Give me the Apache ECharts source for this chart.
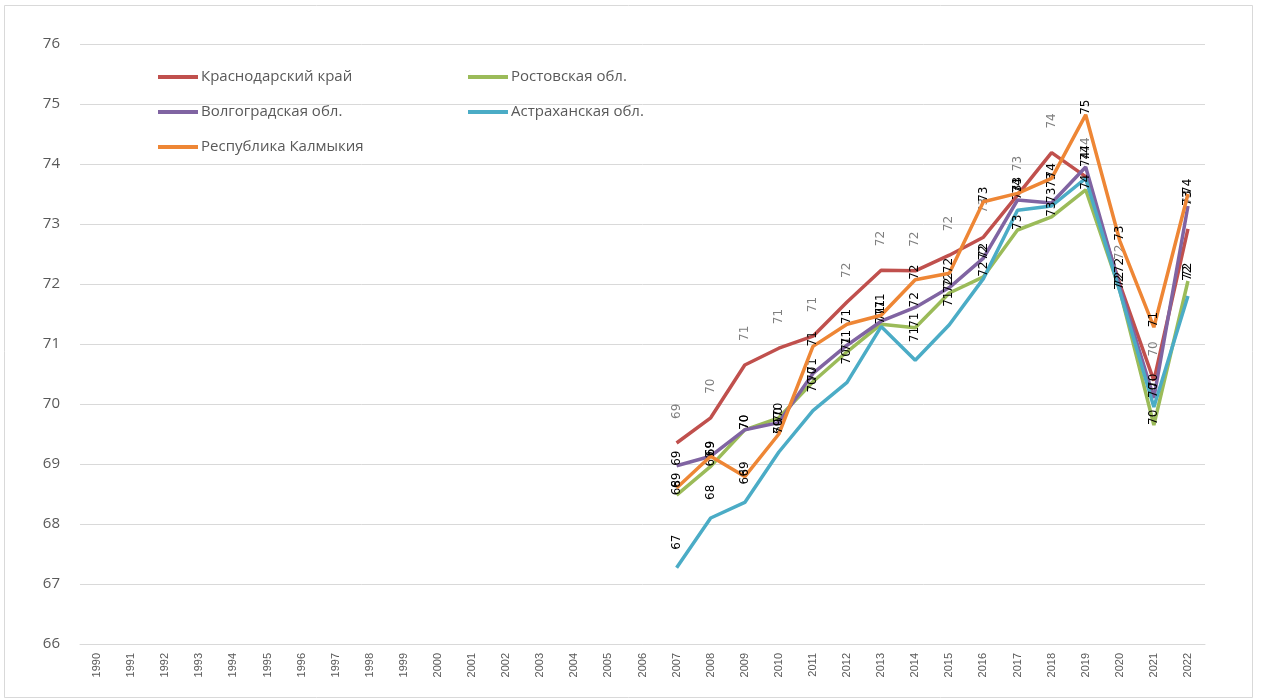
<!DOCTYPE html>
<html>
<head>
<meta charset="utf-8">
<script src="https://cdn.jsdelivr.net/npm/echarts@6/dist/echarts.min.js"></script>
<style>
html,body{margin:0;padding:0;background:#fff;}
#chart{width:1263px;height:700px;}
</style>
</head>
<body>
<div id="chart"></div>
<script>
const years = ["1990","1991","1992","1993","1994","1995","1996","1997","1998","1999","2000","2001","2002","2003","2004","2005","2006","2007","2008","2009","2010","2011","2012","2013","2014","2015","2016","2017","2018","2019","2020","2021","2022"];
const pad = [null,null,null,null,null,null,null,null,null,null,null,null,null,null,null,null,null];
const krasnodar = [69.35,69.77,70.65,70.93,71.13,71.70,72.23,72.22,72.48,72.78,73.48,74.19,73.79,72.00,70.39,72.92];
const rostov    = [68.48,68.96,69.57,69.77,70.37,70.87,71.33,71.27,71.85,72.12,72.90,73.12,73.57,71.90,69.65,72.05];
const volgograd = [68.97,69.13,69.57,69.69,70.51,70.98,71.38,71.61,71.94,72.43,73.40,73.35,73.95,71.95,70.10,73.30];
const astrakhan = [67.27,68.10,68.36,69.20,69.89,70.36,71.29,70.73,71.32,72.09,73.23,73.30,73.76,71.88,69.95,71.80];
const kalmykia  = [68.60,69.13,68.79,69.50,70.96,71.33,71.48,72.07,72.18,73.37,73.51,73.76,74.82,72.72,71.28,73.50];
const seriesNames = ["Краснодарский край","Ростовская обл.","Волгоградская обл.","Астраханская обл.","Республика Калмыкия"];
const colors = ["#c0504d","#9bbb59","#8064a2","#4bacc6","#ee8635"];
const yTicks = {min:66, max:76, interval:1};

const values = [krasnodar, rostov, volgograd, astrakhan, kalmykia];
const chart = echarts.init(document.getElementById('chart'));
const series = values.map((v,i)=>({
  name: seriesNames[i],
  type:'line',
  data: pad.concat(v),
  symbol:'circle',
  symbolSize:0,
  showSymbol:true,
  lineStyle:{width:3.5,color:colors[i]},
  itemStyle:{color:colors[i]},
  z: i===4?5:3,
  label: {
    show:true, rotate:90, position:'top', distance: i===0?24:(i===3?18:0),
    align:'left', verticalAlign:'middle',
    fontSize:12, fontFamily:'DejaVu Sans', color: i===0?'#7f7f7f':'#000',
    formatter:p=>p.value==null?'':String(Math.round(p.value))
  },
  labelLayout:{hideOverlap:false}
}));
chart.setOption({
  animation:false,
  backgroundColor:'#fff',
  grid:{left:80,right:58,top:44,bottom:56,containLabel:false},
  xAxis:{
    type:'category',
    data:years,
    boundaryGap:true,
    axisLine:{show:true,lineStyle:{color:'#d9d9d9',width:1}},
    axisTick:{show:false},
    axisLabel:{rotate:90,fontSize:11,color:'#595959',margin:9,fontFamily:'Liberation Sans',interval:0}
  },
  yAxis:{
    type:'value',
    min:yTicks.min,max:yTicks.max,interval:yTicks.interval,
    axisLine:{show:false},
    axisTick:{show:false},
    splitLine:{lineStyle:{color:'#d9d9d9',width:1}},
    axisLabel:{fontSize:15,color:'#595959',margin:20,fontFamily:'Open Sans'}
  },
  legend:[
    {
      orient:'vertical',left:153,top:62,itemGap:15,itemWidth:40,itemHeight:4,icon:'rect',
      data:[seriesNames[0],seriesNames[2],seriesNames[4]],
      textStyle:{fontSize:15,color:'#595959',fontFamily:'Open Sans',lineHeight:20,padding:[0,0,0,-2]}
    },
    {
      orient:'vertical',left:463,top:62,itemGap:15,itemWidth:40,itemHeight:4,icon:'rect',
      data:[seriesNames[1],seriesNames[3]],
      textStyle:{fontSize:15,color:'#595959',fontFamily:'Open Sans',lineHeight:20,padding:[0,0,0,-2]}
    }
  ],
  graphic:[{type:'rect',shape:{x:4.5,y:5.5,width:1248,height:692},style:{fill:'none',stroke:'#d9d9d9',lineWidth:1},silent:true}],
  series:series
});
</script>
</body>
</html>
